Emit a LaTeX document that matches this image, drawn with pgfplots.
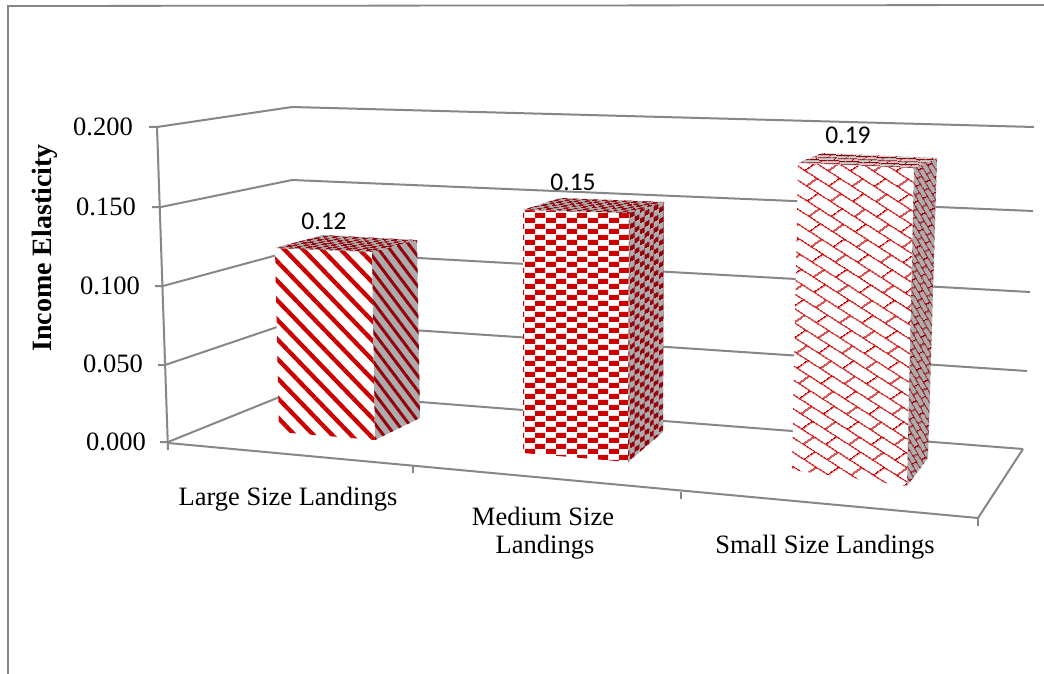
\documentclass[border=0pt]{standalone}
\usepackage{fontspec}
\setmainfont{Liberation Serif}
\newfontfamily\calib{Carlito}
\usepackage{pgfplots}
\pgfplotsset{compat=1.18}
\usetikzlibrary{patterns.meta}

\definecolor{gridgray}{RGB}{135,135,135}
\definecolor{barred}{RGB}{204,0,0}
\definecolor{darkred}{RGB}{150,0,10}
\definecolor{sidegray}{RGB}{172,172,172}

% #1 name, #2 cell width, #3 cell height, #4 tile transformation
\newcommand\declarechecks[4]{%
  \pgfdeclarepattern{name=#1, type=uncolored,
    bottom left={\pgfpoint{0pt}{0pt}},
    top right={\pgfpoint{2*#2 pt}{2*#3 pt}},
    tile size={\pgfpoint{2*#2 pt}{2*#3 pt}},
    tile transformation={#4},
    code={
      \pgfpathrectangle{\pgfpoint{0pt}{0pt}}{\pgfpoint{#2 pt}{#3 pt}}
      \pgfpathrectangle{\pgfpoint{#2 pt}{#3 pt}}{\pgfpoint{#2 pt}{#3 pt}}
      \pgfusepath{fill}
    }}}
% #1 name, #2 brick length, #3 course height, #4 line width, #5 tile transformation
\newcommand\declarebricks[5]{%
  \pgfdeclarepattern{name=#1, type=uncolored,
    bottom left={\pgfpoint{0pt}{0pt}},
    top right={\pgfpoint{#2 pt}{2*#3 pt}},
    tile size={\pgfpoint{#2 pt}{2*#3 pt}},
    tile transformation={#5},
    code={
      \pgfsetlinewidth{#4 pt}
      \pgfpathmoveto{\pgfpoint{0pt}{0.5*#3 pt}}
      \pgfpathlineto{\pgfpoint{#2 pt}{0.5*#3 pt}}
      \pgfpathmoveto{\pgfpoint{0pt}{1.5*#3 pt}}
      \pgfpathlineto{\pgfpoint{#2 pt}{1.5*#3 pt}}
      \pgfpathmoveto{\pgfpoint{0.25*#2 pt}{0.5*#3 pt}}
      \pgfpathlineto{\pgfpoint{0.25*#2 pt}{1.5*#3 pt}}
      \pgfpathmoveto{\pgfpoint{0.75*#2 pt}{1.5*#3 pt}}
      \pgfpathlineto{\pgfpoint{0.75*#2 pt}{2*#3 pt}}
      \pgfpathmoveto{\pgfpoint{0.75*#2 pt}{0pt}}
      \pgfpathlineto{\pgfpoint{0.75*#2 pt}{0.5*#3 pt}}
      \pgfusepath{stroke}
    }}}
\declarechecks{ChecksFront}{10.5}{5.5}{\pgftransformcm{1}{0}{0}{1}{\pgfpointorigin}}
\declarechecks{ChecksSide}{5}{5.5}{\pgftransformcm{1}{0.55}{0}{1}{\pgfpointorigin}}
\declarechecks{ChecksTop}{5}{1.8}{\pgftransformcm{1}{-0.05}{1.5}{1}{\pgfpointorigin}}
\declarebricks{BrickFront}{29}{13.5}{1.5}{\pgftransformcm{0.84}{-0.54}{0.82}{0.57}{\pgfpointorigin}}
\declarebricks{BrickSide}{14}{5.5}{1.1}{\pgftransformcm{0.5}{-0.85}{0.9}{0.43}{\pgfpointorigin}}
\declarebricks{BrickTop}{18}{3}{1}{\pgftransformcm{1}{-0.05}{1.5}{1}{\pgfpointorigin}}

\begin{document}
\begin{tikzpicture}
\begin{axis}[
  scale only axis, width=1044pt, height=674pt,
  xmin=0, xmax=1044, ymin=0, ymax=674, y dir=reverse,
  hide axis,
  wall/.style={gridgray, line width=2pt},
  face/.style={draw=none, fill=#1},
  textlabel/.style={draw=none, mark=none, point meta=explicit symbolic,
    nodes near coords, nodes near coords align={center}},
]
% page background and frame
\addplot[draw=none, fill=white] coordinates {(0,0) (1044,0) (1044,674) (0,674) (0,0)};
\addplot[gridgray, line width=1.8pt] coordinates {(1044,5) (8,6) (8,674)};

% gridlines: left wall, then back wall
\addplot[wall] coordinates {(149,127) (157,127) (292,107) (1034,127)};
\addplot[wall] coordinates {(152,207) (161,207) (292,180) (1033,211)};
\addplot[wall] coordinates {(155,286) (163,286) (292,251) (1030,292)};
\addplot[wall] coordinates {(158,365) (165,365) (292,322) (1027,371)};
\addplot[wall] coordinates {(160,442) (168,442) (292,392) (1023,449)};
% value axis
\addplot[wall] coordinates {(157,127) (168,450)};
% floor and category ticks
\addplot[wall] coordinates {(168,443) (978,518) (1023,449)};
\addplot[wall] coordinates {(413,466) (413,473)};
\addplot[wall] coordinates {(681,492) (681,499)};
\addplot[wall] coordinates {(978,518) (978,526)};

% Large Size Landings (0.12)
\addplot[face=white, postaction={pattern={Lines[angle=-46,distance=13.5pt,line width=4.3pt]}, pattern color=barred}]
  coordinates {(275,248) (372,252) (375,440) (279,432) (275,248)};
\addplot[face=sidegray, postaction={pattern={Lines[angle=-53,distance=9pt,line width=3pt]}, pattern color=darkred}]
  coordinates {(372,252) (417,240) (420,418) (375,440) (372,252)};
\addplot[face=sidegray, postaction={pattern={ChecksTop}, pattern color=darkred}]
  coordinates {(275,248) (323,235) (417,240) (372,252) (275,248)};

% Medium Size Landings (0.15)
\addplot[face=white, postaction={pattern={ChecksFront}, pattern color=barred}]
  coordinates {(523,210) (629,213) (628,462) (523,453) (523,210)};
\addplot[face=sidegray, postaction={pattern={ChecksSide}, pattern color=darkred}]
  coordinates {(629,213) (664,202) (663,432) (628,462) (629,213)};
\addplot[face=sidegray, postaction={pattern={ChecksTop}, pattern color=darkred}]
  coordinates {(523,210) (560,198) (664,202) (629,213) (523,210)};

% Small Size Landings (0.19)
\addplot[face=white, postaction={pattern={BrickFront}, pattern color=barred}]
  coordinates {(798,163) (914,168) (907,486) (792,470) (798,163)};
\addplot[face=sidegray, postaction={pattern={BrickSide}, pattern color=darkred}]
  coordinates {(914,168) (937,158) (928,458) (907,486) (914,168)};
\addplot[face=sidegray!60, postaction={pattern={BrickTop}, pattern color=darkred}]
  coordinates {(798,163) (822,153) (937,158) (914,168) (798,163)};

% value labels
\addplot[textlabel, every node near coord/.append style={font=\calib\fontsize{25.5}{30}\selectfont, text=black}]
  coordinates {(324,221) [0.12] (573,182) [0.15] (848,135) [0.19]};
% value axis tick labels
\addplot[textlabel, every node near coord/.append style={font=\fontsize{26.5}{30}\selectfont, text=black}]
  coordinates {(103,127) [0.200] (106,207) [0.150] (110,286) [0.100] (113,364) [0.050] (116,442) [0.000]};
% category labels
\addplot[textlabel, every node near coord/.append style={font=\fontsize{26.5}{30}\selectfont, text=black}]
  coordinates {(288,499) [Large Size Landings] (543,516) [Medium Size] (545,547) [Landings] (825,547) [Small Size Landings]};
% value axis title
\addplot[textlabel, every node near coord/.append style={font=\bfseries\fontsize{28}{30}\selectfont, text=black, rotate=90}]
  coordinates {(45,248) [Income Elasticity]};
\end{axis}
\end{tikzpicture}
\end{document}
